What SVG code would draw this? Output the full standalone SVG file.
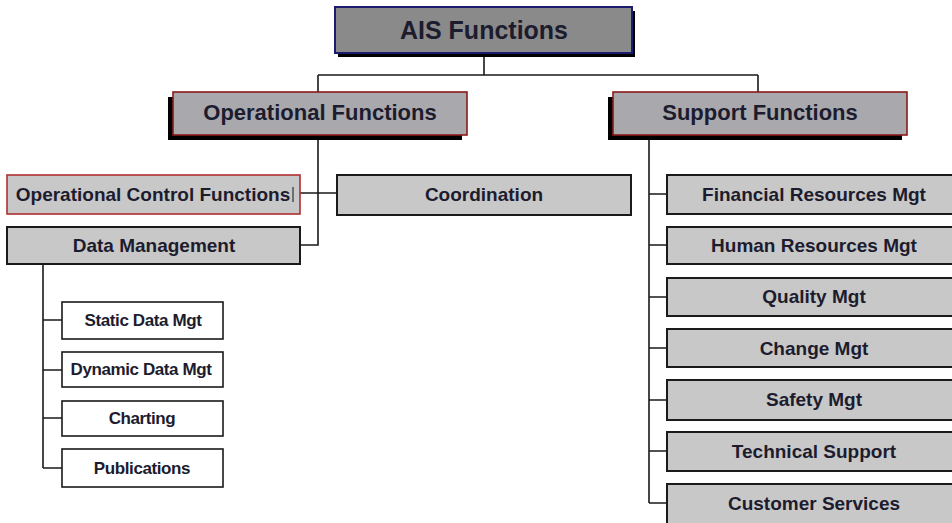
<svg xmlns="http://www.w3.org/2000/svg" width="952" height="523" viewBox="0 0 952 523">
<style>
  text { font-family: "Liberation Sans", Arial, sans-serif; font-weight: bold; fill: #1c1c2e; text-anchor: middle; }
  .conn { fill: none; stroke: #1a1a1a; stroke-width: 1.6; }
  .shadow { fill: #000; }
  .gray { fill: #c8c8c8; stroke: #1a1a1a; stroke-width: 2; }
  .white { fill: #fff; stroke: #1a1a1a; stroke-width: 1.6; }
  .top2 { fill: #a9a8ad; stroke: #8b1a1a; stroke-width: 1.6; }
  .t19 { font-size: 19px; }
  .t17 { font-size: 17px; letter-spacing: -0.4px; }
</style>
<rect width="952" height="523" fill="#fff"/>
<g id="connectors">
  <path class="conn" d="M484 53 V75 M318 75 H758 M318 75 V92 M758 75 V92"/>
  <path class="conn" d="M318 135 V245 H300 M300 193 H337"/>
  <path class="conn" d="M43 264 V468 M43 320 H62 M43 370 H62 M43 418 H62 M43 468 H62"/>
  <path class="conn" d="M649 135 V503 M649 194 H667 M649 245 H667 M649 297 H667 M649 348 H667 M649 400 H667 M649 451 H667 M649 503 H667"/>
</g>
<g id="ais">
  <rect class="shadow" x="338" y="11" width="297" height="46"/>
  <rect x="335" y="7" width="297" height="46" fill="#8a8a8a" stroke="#1a1a6e" stroke-width="2"/>
  <text x="484" y="39" font-size="25">AIS Functions</text>
</g>
<g id="operational">
  <rect class="shadow" x="168" y="97" width="294" height="43"/>
  <rect class="top2" x="173" y="92" width="294" height="43"/>
  <text x="320" y="120" font-size="22">Operational Functions</text>
</g>
<g id="support">
  <rect class="shadow" x="608" y="97" width="294" height="43"/>
  <rect class="top2" x="613" y="92" width="294" height="43"/>
  <text x="760" y="120" font-size="22">Support Functions</text>
</g>
<g id="opcontrol">
  <rect x="7" y="175" width="293" height="39" fill="#c8c8c8" stroke="#b03030" stroke-width="1.6"/>
  <text class="t19" x="153" y="201">Operational Control Functions</text>
  <line x1="293" y1="187" x2="293" y2="202" stroke="#333" stroke-width="1.2"/>
</g>
<g id="coordination">
  <rect class="gray" x="337" y="175" width="294" height="40"/>
  <text class="t19" x="484" y="201">Coordination</text>
</g>
<g id="datamgmt">
  <rect class="gray" x="7" y="227" width="293" height="37"/>
  <text class="t19" x="154" y="252">Data Management</text>
</g>
<g id="static">
  <rect class="white" x="62" y="302" width="161" height="37"/>
  <text class="t17" x="143" y="326">Static Data Mgt</text>
</g>
<g id="dynamic">
  <rect class="white" x="62" y="352" width="161" height="35"/>
  <text class="t17" x="141" y="375">Dynamic Data Mgt</text>
</g>
<g id="charting">
  <rect class="white" x="62" y="401" width="161" height="35"/>
  <text class="t17" x="142" y="424">Charting</text>
</g>
<g id="publications">
  <rect class="white" x="62" y="449" width="161" height="38"/>
  <text class="t17" x="142" y="474">Publications</text>
</g>
<g id="financial">
  <rect class="gray" x="667" y="175" width="295" height="39"/>
  <text class="t19" x="814" y="201">Financial Resources Mgt</text>
</g>
<g id="human">
  <rect class="gray" x="667" y="227" width="295" height="37"/>
  <text class="t19" x="814" y="252">Human Resources Mgt</text>
</g>
<g id="quality">
  <rect class="gray" x="667" y="278" width="295" height="38"/>
  <text class="t19" x="814" y="303">Quality Mgt</text>
</g>
<g id="change">
  <rect class="gray" x="667" y="329" width="295" height="38"/>
  <text class="t19" x="814" y="355">Change Mgt</text>
</g>
<g id="safety">
  <rect class="gray" x="667" y="380" width="295" height="40"/>
  <text class="t19" x="814" y="406">Safety Mgt</text>
</g>
<g id="technical">
  <rect class="gray" x="667" y="432" width="295" height="39"/>
  <text class="t19" x="814" y="458">Technical Support</text>
</g>
<g id="customer">
  <rect class="gray" x="667" y="484" width="295" height="45"/>
  <text class="t19" x="814" y="510">Customer Services</text>
</g>
</svg>
